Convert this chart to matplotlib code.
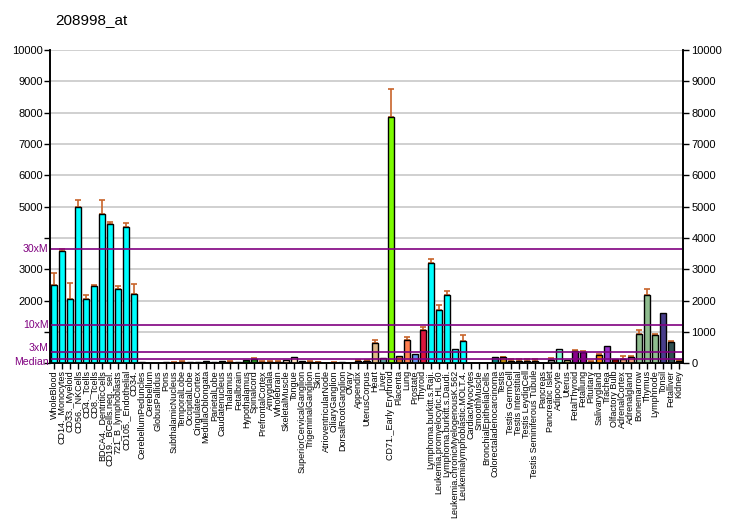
import matplotlib
matplotlib.use("Agg")
import matplotlib.pyplot as plt
from matplotlib.transforms import offset_copy
import numpy as np

title = "208998_at"

tissues = [
    "WholeBlood", "CD14._Monocytes", "CD33._Myeloid", "CD56._NKCells", "CD4._Tcells",
    "CD8._Tcells", "BDCA4._DentriticCells", "CD19._BCells.neg._sel.", "721_B_lymphoblasts",
    "CD105._Endothelial", "CD34.", "CerebellumPeduncles", "Cerebellum", "GlobusPallidus",
    "Pons", "SubthalamicNucleus", "TemporalLobe", "OccipitalLobe", "CingulateCortex",
    "MedullaOblongata", "ParietalLobe", "Caudatenucleus", "Thalamus", "Fetalbrain",
    "Hypothalamus", "Spinalcord", "PrefrontalCortex", "Amygdala", "Wholebrain",
    "SkeletalMuscle", "Tongue", "SuperiorCervicalGanglion", "TrigeminalGanglion", "Skin",
    "AtrioventricularNode", "CiliaryGanglion", "DorsalRootGanglion", "Ovary", "Appendix",
    "UterusCorpus", "Heart", "Liver", "CD71._Early Erythroid", "Placenta", "Lung",
    "Prostate", "Thyroid", "Lymphoma.burkitt.s.Raji.", "Leukemia.promyelocytic.HL.60",
    "Lymphoma.burkitt.s.Daudi.", "Leukemia.chronicMyelogenousK.562",
    "Leukemialymphoblastic.MOLT.4.", "CardiacMyocytes", "SmoothMuscle",
    "BronchialEpithelialCells", "Colorectaladenocarcinoma", "Testis", "Testis GermCell",
    "Testis Interstitial", "Testis LeydigCell", "Testis Seminiferous Tubule", "Pancreas",
    "Pancreatic Islet", "Adipocyte", "Uterus", "FetalThyroid", "Fetallung", "Pituitary",
    "Salivarygland", "Trachea", "Olfactory Bulb", "AdrenalCortex", "Adrenalgland",
    "Bonemarrow", "Thymus", "Lymphnode", "Tonsil", "Fetalliver", "Kidney",
]

values = [
    2496, 3594, 2058, 5002, 2058, 2474, 4778, 4458, 2378, 4352, 2218,
    40, 12, 12, 40, 25, 55, 30, 30, 75, 30, 75, 55, 30,
    107, 140, 50, 50, 40, 96, 192, 60, 55, 30, 25, 25, 30, 5,
    64, 64, 640, 160, 7872, 224, 736, 299, 1056,
    3200, 1696, 2176, 459, 715, 20, 20, 20, 203, 203, 75, 75, 75, 75,
    5, 107, 459, 96, 384, 373, 43, 267, 555, 128, 128, 192,
    939, 2187, 907, 1600, 683, 85,
]

errors = [
    384, 56, 502, 214, 118, 32, 438, 52, 86, 128, 310,
    0, 0, 0, 0, 20, 30, 0, 0, 0, 0, 0, 20, 0,
    0, 30, 20, 30, 20, 0, 0, 0, 30, 20, 0, 25, 0, 0,
    30, 30, 96, 0, 896, 0, 96, 0, 96,
    128, 160, 128, 0, 181, 0, 0, 0, 0, 10, 50, 50, 50, 50,
    0, 53, 0, 0, 32, 20, 20, 32, 0, 0, 107, 32,
    128, 181, 32, 0, 21, 32,
]

colors = (
    ["#00FFFF"] * 11
    + ["#8B4513", "#1a1a1a", "#1a1a1a", "#1a1a1a", "#CD853F", "#8B4513", "#1a1a1a",
       "#1a1a1a", "#006400", "#1a1a1a", "#006400", "#8B4513", "#1a1a1a",
       "#006400", "#228B22", "#8B4513", "#006400", "#8B4513",
       "#FFDAB9", "#FFE4C4", "#1a1a1a", "#2F2F2F", "#8B4513", "#1a1a1a", "#8B4513",
       "#1a1a1a", "#1a1a1a",
       "#9932CC", "#A52A2A", "#DEB887", "#5F9EA0", "#7CFC00", "#D2691E", "#FF7F50",
       "#6495ED", "#DC143C"]
    + ["#00FFFF"] * 5
    + ["#1a1a1a", "#1a1a1a", "#1a1a1a", "#008080", "#B8860B", "#B8860B", "#B8860B",
       "#B8860B", "#B8860B", "#A9A9A9", "#A9A9A9", "#7FFFD4", "#BDB76B", "#8B008B",
       "#8B008B", "#A0522D", "#FF8C00", "#9932CC", "#8B0000", "#E9967A", "#E9967A",
       "#8FBC8F", "#8FBC8F", "#8FBC8F", "#483D8B", "#2F4F4F", "#556B2F"]
)

median = 122
marker_lines = {"30xM": 30 * median, "10xM": 10 * median, "3xM": 3 * median, "Median": median}
label_nudge = {"30xM": 0, "10xM": 0, "3xM": 2.5, "Median": -1.5}  # points

plt.rcParams["font.family"] = ["Liberation Sans", "DejaVu Sans"]

fig = plt.figure(figsize=(7.32, 5.30), dpi=100)
ax = fig.add_axes([50 / 732, 1 - 363.3 / 530, 633 / 732, 313.3 / 530])

x = np.arange(len(tissues))
ax.set_xlim(-0.5, len(tissues) - 0.5)
ax.set_ylim(0, 10000)

for yv in range(1000, 10001, 1000):
    ax.axhline(yv, color="#C8C8C8", linewidth=1.2, zorder=0)

ax.bar(x, values, width=0.75, color=colors, edgecolor="black", linewidth=1.0, zorder=3)

ex = [i for i, e in enumerate(errors) if e > 0]
ax.errorbar(ex, [values[i] for i in ex], yerr=[[0] * len(ex), [errors[i] for i in ex]],
            fmt="none", ecolor="#C8642A", elinewidth=1.2, capsize=2.5, capthick=1.2, zorder=2)

for name, v in marker_lines.items():
    ax.axhline(v, color="#800080", linewidth=1.2, zorder=4)

ax.spines["top"].set_visible(False)
for s in ["left", "right", "bottom"]:
    ax.spines[s].set_linewidth(1.2)

ax.set_xticks(x)
ax.set_xticklabels(tissues, rotation=90, fontsize=6.5, va="top", ha="center")
ax.tick_params(axis="x", length=4, width=1, pad=1)

left_ticks = [10000, 9000, 8000, 7000, 6000, 5000, 4000, 3000, 2000, 1000, 0]
left_labels = ["10000", "9000", "8000", "7000", "6000", "5000", "", "3000", "2000", "", ""]
ax.set_yticks(left_ticks)
ax.set_yticklabels(left_labels, fontsize=8)
ax.tick_params(axis="y", length=4, width=1, pad=1)
for name, v in marker_lines.items():
    tr = offset_copy(ax.transData, fig=fig, x=0, y=label_nudge[name], units="points")
    ax.text(-0.7, v, name, color="#800080", fontsize=7.6, ha="right", va="center",
            transform=tr, clip_on=False)

ax2 = ax.twinx()
ax2.set_ylim(0, 10000)
ax2.set_yticks(left_ticks)
ax2.set_yticklabels([str(t) for t in left_ticks], fontsize=8)
ax2.tick_params(axis="y", length=4, width=1, pad=2)
ax2.spines["top"].set_visible(False)
for s in ["left", "right", "bottom"]:
    ax2.spines[s].set_linewidth(1.2)

fig.text(55 / 732, 1 - 20 / 530, title, fontsize=11, ha="left", va="center")

fig.savefig("out.png", dpi=100)
